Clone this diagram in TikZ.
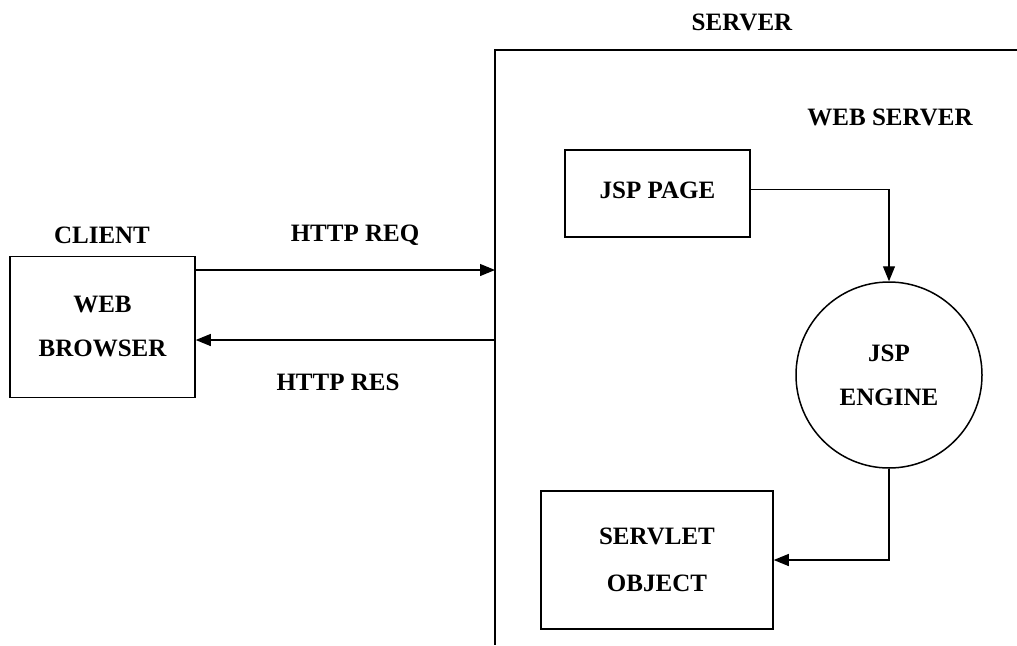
\documentclass[tikz,border=0pt]{standalone}
\usepackage{fontspec}
\setmainfont{Liberation Serif}
\usetikzlibrary{arrows.meta}
\begin{document}
\begin{tikzpicture}[x=1pt,y=-1pt,
  line width=1.5pt,
  every node/.style={font=\bfseries\fontsize{25}{44}\selectfont},
  box/.style={draw,rectangle,align=center,inner sep=0pt},
  roundbox/.style={draw,circle,align=center,inner sep=0pt,minimum size=186pt},
  lbl/.style={inner sep=0pt},
  flow/.style={line width=1.2pt,-{Triangle[length=15pt,width=12pt]}}]
\useasboundingbox (0,0) rectangle (1017,645);

% server frame (open to the right and bottom)
\coordinate (srvtr) at (1017,50);
\coordinate (srvtl) at (495,50);
\coordinate (srvbl) at (495,645);
\draw (srvtr) -- (srvtl) -- (srvbl);
\node[lbl] (srvlbl) at (742,22) {SERVER};
\node[lbl] (wslbl) at (890,117) {WEB SERVER};

% client side
\node[lbl] (clientlbl) at (102,235) {CLIENT};
\node[box,minimum width=185pt,minimum height=141pt] (client) at (102.5,327) {WEB\\BROWSER};

% request / response
\coordinate (reqin) at (495,270);
\coordinate (resout) at (495,340);
\draw[flow] (client.east |- reqin) -- (reqin);
\draw[flow] (resout) -- (client.east |- resout);
\node[lbl] (reqlbl) at (355,235) {HTTP REQ};
\node[lbl] (reslbl) at (338,382) {HTTP RES};

% web server contents
\node[box,minimum width=185pt,minimum height=87pt] (jsp) at (657.5,193.5) {\raisebox{6pt}{JSP PAGE}};
\node[roundbox] (engine) at (889,375) {JSP\\ENGINE};
\node[box,minimum width=232pt,minimum height=138pt] (servlet) at (657,560) {\raisebox{3pt}{SERVLET}\\OBJECT};

\draw[flow] ([yshift=4pt]jsp.east) -| (engine.north);
\draw[flow] (engine.south) |- (servlet.east);
\end{tikzpicture}
\end{document}
